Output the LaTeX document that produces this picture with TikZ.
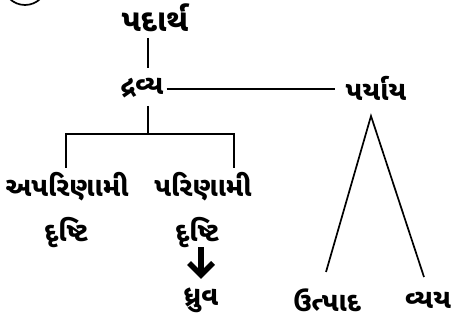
\documentclass[tikz,border=0pt]{standalone}
\usepackage{fontspec}
\newfontfamily\guj[Script=Gujarati]{Noto Sans Gujarati UI}
\usetikzlibrary{arrows.meta}
\begin{document}
\begin{tikzpicture}[x=1pt,y=-1pt,
  lbl/.style={font=\guj\fontsize{27}{30}\selectfont\bfseries, inner sep=0pt, anchor=center},
  big/.style={font=\guj\fontsize{31}{34}\selectfont\bfseries, inner sep=0pt, anchor=center},
  ln/.style={line width=1.7pt},
  thickarrow/.style={line width=5.5pt}]
\useasboundingbox (0,0) rectangle (452,323);
\draw[line width=1.7pt] (25,-17) circle (22);
\node[big] (pad) at (155,18) {પદાર્થ};
\node[lbl] (dra) at (142,88) {દ્રવ્ય};
\node[lbl] (par) at (376,88) {પર્યાય};
\node[lbl] (apa) at (67,187) {અપરિણામી};
\node[lbl] (pari) at (203,187) {પરિણામી};
\node[lbl] (d1) at (66,233) {દૃષ્ટિ};
\node[lbl] (d2) at (197,233) {દૃષ્ટિ};
\node[lbl] (dhr) at (201,300) {ધ્રુવ};
\node[lbl] (utp) at (327,300) {ઉત્પાદ};
\node[lbl] (vya) at (428,300) {વ્યય};
\coordinate (top) at (148,38);
\coordinate (bar) at (148,134);
\coordinate (bl) at (66,134);
\coordinate (br) at (234,134);
\coordinate (apex) at (371,116);
\coordinate (ul) at (326,272);
\coordinate (vr) at (424,277);
\coordinate (as) at (201,247);
\coordinate (at) at (201,275);
\draw[ln] (top) -- (148,68);
\draw[ln] (dra.east) ++(3,1) -- (335,89);
\draw[ln] (148,106) -- (bar);
\draw[ln] (66,168) -- (bl) -- (br) -- (234,168);
\draw[ln] (ul) -- (apex) -- (vr);
\draw[thickarrow] (as) -- (at);
\draw[thickarrow, line join=miter, miter limit=10] (189,263) -- (at) -- (213,263);
\end{tikzpicture}
\end{document}
